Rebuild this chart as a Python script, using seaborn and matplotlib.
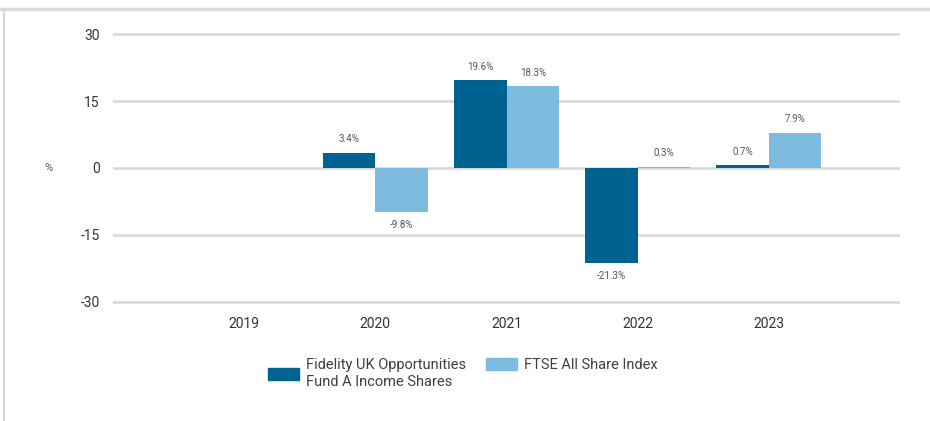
import numpy as np
import pandas as pd
import seaborn as sns
import matplotlib.pyplot as plt
from matplotlib.lines import Line2D

# data (% per calendar year)
years = ['2019', '2020', '2021', '2022', '2023']
fund = [np.nan, 3.4, 19.6, -21.3, 0.7]
index = [np.nan, -9.8, 18.3, 0.3, 7.9]
fund_name = 'Fidelity UK Opportunities\nFund A Income Shares'
index_name = 'FTSE All Share Index'
yticks = [-30, -15, 0, 15, 30]

df = pd.DataFrame({
    'year': years * 2,
    'series': [fund_name] * len(years) + [index_name] * len(years),
    'value': fund + index,
})

sns.set_theme(style='white')
plt.rcParams['font.family'] = ['Roboto', 'DejaVu Sans']

W, H = 930, 421
fig = plt.figure(figsize=(W / 100, H / 100), dpi=100)
# axes in pixel terms: left 113, right 900, top ~32, bottom ~304
ax = fig.add_axes([113 / W, 1 - 304.2 / H, (900 - 113) / W, (304.2 - 31.8) / H])

palette = {fund_name: '#006291', index_name: '#7fbbe1'}
sns.barplot(data=df.dropna(), x='year', y='value', hue='series', order=years,
            hue_order=[fund_name, index_name], palette=palette, width=0.8,
            errorbar=None, saturation=1, linewidth=0, ax=ax, legend=False)

ax.set_xlim(-1.0, 5.0)
ax.set_ylim(-30.5, 30.5)
ax.set_yticks(yticks)
ax.set_yticklabels([str(t) for t in yticks])
ax.yaxis.grid(True, color='#d9d9d9', linewidth=1.9)
ax.set_axisbelow(True)
for s in ax.spines.values():
    s.set_visible(False)
ax.tick_params(axis='both', length=0, labelsize=10, labelcolor='#333333')
ax.tick_params(axis='y', pad=9.5)
ax.tick_params(axis='x', pad=9)
ax.set_xlabel('')
ax.set_ylabel('%', rotation=0, fontsize=8, color='#555555', ha='center', va='center')
ax.yaxis.set_label_coords((48 - 113) / (900 - 113), 0.5)

# value labels
for cont, vals in zip(ax.containers, [fund[1:], index[1:]]):
    ax.bar_label(cont, labels=[f'{v:.1f}%' for v in vals], padding=6,
                 fontsize=7, color='#555555')

# legend: two separate boxes so the single-line entry sits on the first line
leg_kw = dict(frameon=False, loc='upper left', borderaxespad=0, borderpad=0,
              fontsize=10.5, labelcolor='#404040', handlelength=2.1,
              handleheight=0.9, handletextpad=0.5)
leg1 = fig.legend([plt.Rectangle((0, 0), 1, 1, color=palette[fund_name])], [fund_name],
                  bbox_to_anchor=(268 / W, 1 - 358 / H), **leg_kw)
for t in leg1.get_texts():
    t.set_linespacing(1.3)
leg2 = fig.legend([plt.Rectangle((0, 0), 1, 1, color=palette[index_name])], [index_name],
                  bbox_to_anchor=(486 / W, 1 - 358 / H), **leg_kw)

# outer frame lines (top and left)
fig.add_artist(Line2D([0, 1], [1 - 9 / H, 1 - 9 / H], color='#d9d9d9', lw=2.5))
fig.add_artist(Line2D([4 / W, 4 / W], [0, 1 - 9 / H], color='#d9d9d9', lw=1.5))

fig.savefig('out.png', dpi=100)
